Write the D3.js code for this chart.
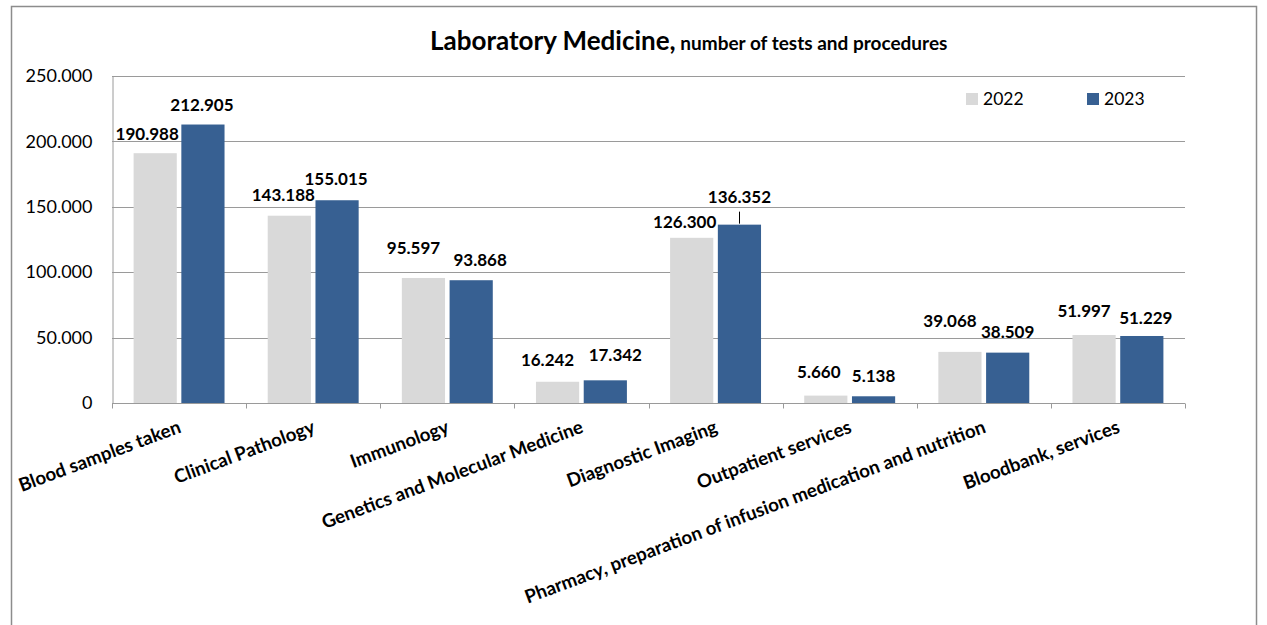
<!DOCTYPE html>
<html>
<head>
<meta charset="utf-8">
<script src="https://cdn.jsdelivr.net/npm/d3@7"></script>
<style>
  body { margin: 0; background: #fff; }
  svg { display: block; font-family: Lato, "Open Sans", sans-serif; }
</style>
</head>
<body>
<svg id="chart" width="1267" height="625"></svg>
<script>
// ---------------------------------------------
// Chart data
// ---------------------------------------------
let categories = [
  'Blood samples taken',
  'Clinical Pathology',
  'Immunology',
  'Genetics and Molecular Medicine',
  'Diagnostic Imaging',
  'Outpatient services',
  'Pharmacy, preparation of infusion medication and nutrition',
  'Bloodbank, services'
];
let years = ['2022', '2023'];
let values2022 = [190988, 143188, 95597, 16242, 126300, 5660, 39068, 51997];
let values2023 = [212905, 155015, 93868, 17342, 136352, 5138, 38509, 51229];
let yTicks = [0, 50000, 100000, 150000, 200000, 250000];

// label nudges (dx from bar centre, dy of baseline from bar top), as placed in the original
let nudge2022 = [[-8, -13], [-6, -15], [-10, -24], [-10, -16], [-7, -10], [-7, -18], [-10, -25], [-10, -18]];
let nudge2023 = [[-1, -14], [-1, -15], [9, -14], [10, -19], [0, -22], [0, -14], [0, -15], [4, -12]];
let leaderLines2023 = ['Diagnostic Imaging'];

let colors = {'2022': '#d9d9d9', '2023': '#376092'};

// ---------------------------------------------
// Drawing
// ---------------------------------------------
let svg = d3.select('#chart');
let margin = {left: 112, right: 1185, top: 76, bottom: 403};

let locale = d3.formatLocale({decimal: ',', thousands: '.', grouping: [3], currency: ['', '']});
let fmt = locale.format(',d');

// outer frame
svg.append('rect')
    .attr('x', 11.5).attr('y', 6.5)
    .attr('width', 1245).attr('height', 650)
    .attr('fill', 'none')
    .attr('stroke', '#8c8c8c')
    .attr('stroke-width', 1.5);

// title
let title = svg.append('text')
    .attr('x', 430).attr('y', 50)
    .attr('fill', '#000');
title.append('tspan').attr('font-size', 26).attr('font-weight', 'bold').text('Laboratory Medicine,');
title.append('tspan').attr('font-size', 19).attr('font-weight', 'bold').text(' number of tests and procedures');

let x0 = d3.scaleBand().domain(categories).range([margin.left, margin.right]);
let bw = x0.bandwidth();
let barW = bw * 0.322;
let gap = bw * 0.034;
let offset = (bw - 2 * barW - gap) / 2;
let x1 = d3.scaleOrdinal().domain(years).range([offset, offset + barW + gap]);

let y = d3.scaleLinear().domain([0, 250000]).range([margin.bottom, margin.top]);

// gridlines
svg.append('g').selectAll('line').data(yTicks.slice(1))
    .join('line')
    .attr('x1', margin.left).attr('x2', margin.right)
    .attr('y1', (d) => Math.round(y(d)) + 0.5)
    .attr('y2', (d) => Math.round(y(d)) + 0.5)
    .attr('stroke', '#9a9a9a')
    .attr('stroke-width', 1);

// y axis
let yAxis = svg.append('g')
    .attr('transform', `translate(${margin.left + 0.5},0)`)
    .call(d3.axisLeft(y).tickValues(yTicks).tickFormat((d) => d === 0 ? '0' : fmt(d)).tickSize(0).tickPadding(20));
yAxis.select('.domain').attr('stroke', '#9a9a9a');
yAxis.selectAll('text').attr('font-size', 18).attr('fill', '#000').attr('font-family', 'Lato');

// bars
let series = [
  {year: '2022', values: values2022, nudge: nudge2022},
  {year: '2023', values: values2023, nudge: nudge2023}
];

series.forEach((s) => {
  svg.append('g').selectAll('rect').data(s.values)
      .join('rect')
      .attr('x', (d, i) => x0(categories[i]) + x1(s.year))
      .attr('y', (d) => y(d))
      .attr('width', barW)
      .attr('height', (d) => y(0) - y(d))
      .attr('fill', colors[s.year]);
});

// x axis
let xAxis = svg.append('g')
    .attr('transform', `translate(0,${margin.bottom + 0.5})`);
xAxis.append('line')
    .attr('x1', margin.left).attr('x2', margin.right)
    .attr('stroke', '#9a9a9a');
let bounds = categories.map((c) => x0(c)).concat([margin.right]);
xAxis.selectAll('line.tick').data(bounds)
    .join('line')
    .attr('class', 'tick')
    .attr('x1', (d) => Math.round(d) + 0.5).attr('x2', (d) => Math.round(d) + 0.5)
    .attr('y1', 0).attr('y2', 5)
    .attr('stroke', '#9a9a9a');

svg.append('g').selectAll('text').data(categories)
    .join('text')
    .attr('transform', (d) => `translate(${x0(d) + bw / 2 + 3},432) rotate(-20.5)`)
    .attr('text-anchor', 'end')
    .attr('font-size', 18.7)
    .attr('font-weight', 'bold')
    .attr('fill', '#000')
    .text((d) => d);

// value labels
series.forEach((s) => {
  svg.append('g').selectAll('text').data(s.values)
      .join('text')
      .attr('x', (d, i) => x0(categories[i]) + x1(s.year) + barW / 2 + s.nudge[i][0])
      .attr('y', (d, i) => y(d) + s.nudge[i][1])
      .attr('text-anchor', 'middle')
      .attr('font-size', 17)
      .attr('font-weight', 'bold')
      .attr('fill', '#000')
      .text((d) => fmt(d));
});

// leader lines for moved labels
values2023.forEach((d, i) => {
  if (leaderLines2023.indexOf(categories[i]) < 0) return;
  let cx = Math.round(x0(categories[i]) + x1('2023') + barW / 2) + 0.5;
  svg.append('line')
      .attr('x1', cx).attr('x2', cx)
      .attr('y1', y(d) + nudge2023[i][1] + 9)
      .attr('y2', y(d) - 1)
      .attr('stroke', '#000')
      .attr('stroke-width', 1);
});

// legend
let legend = svg.append('g');
years.forEach((yr, i) => {
  let lx = 966 + i * 121;
  legend.append('rect')
      .attr('x', lx).attr('y', 93)
      .attr('width', 12).attr('height', 12)
      .attr('fill', colors[yr]);
  legend.append('text')
      .attr('x', lx + 17).attr('y', 105)
      .attr('font-size', 17.5)
      .attr('fill', '#000')
      .text(yr);
});
</script>
</body>
</html>
